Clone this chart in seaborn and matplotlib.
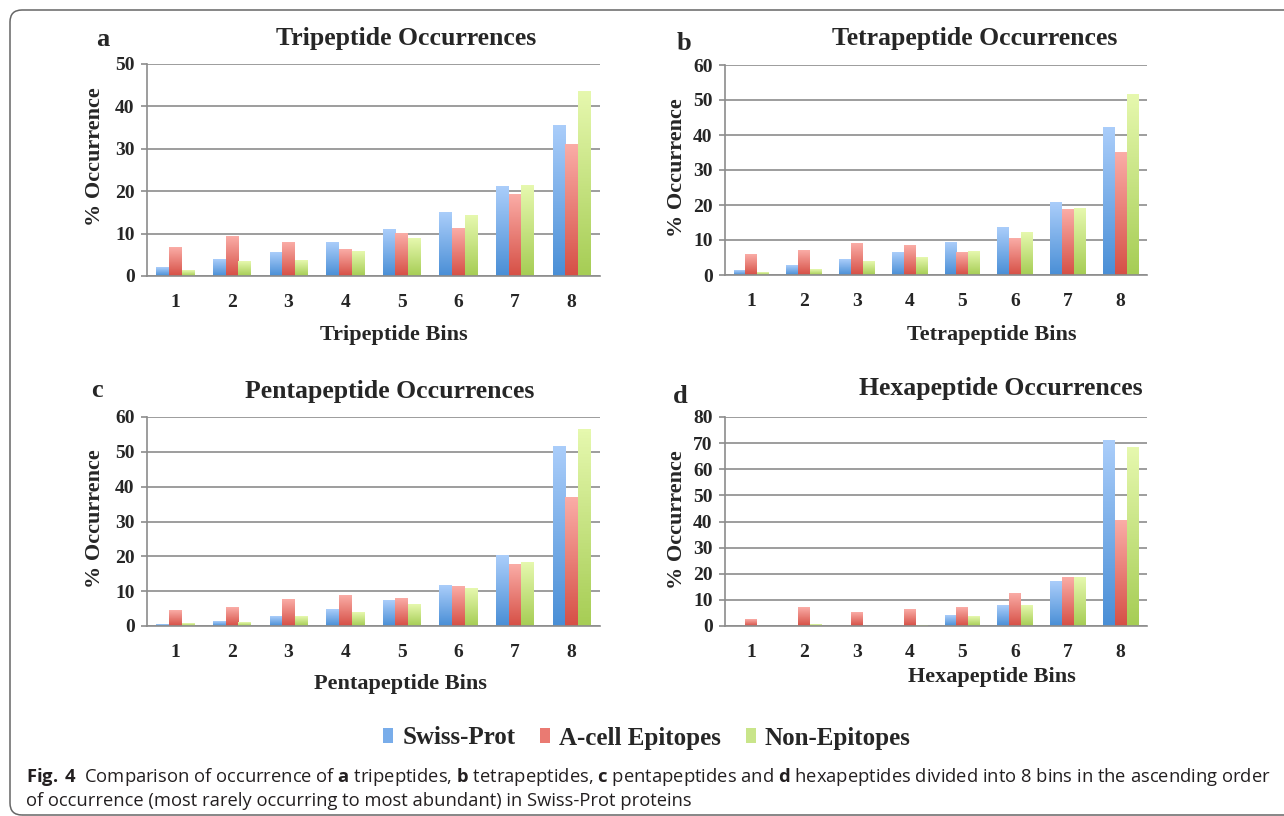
import matplotlib
matplotlib.use("Agg")
import matplotlib.pyplot as plt
import matplotlib.colors as mcolors
from matplotlib.patches import Patch, FancyBboxPatch
from matplotlib.transforms import IdentityTransform
import numpy as np
import pandas as pd
import seaborn as sns

# ---- data (% occurrence per bin) ----
BINS = ["1", "2", "3", "4", "5", "6", "7", "8"]
SERIES = ["Swiss-Prot", "A-cell Epitopes", "Non-Epitopes"]

TRI_SWISS = [1.9, 3.8, 5.5, 8.0, 11.0, 14.9, 21.1, 35.5]
TRI_ACELL = [6.7, 9.2, 8.0, 6.3, 10.1, 11.2, 19.2, 30.9]
TRI_NONEP = [1.2, 3.4, 3.6, 5.8, 8.9, 14.2, 21.3, 43.5]

TETRA_SWISS = [1.2, 2.7, 4.4, 6.5, 9.4, 13.7, 20.7, 42.2]
TETRA_ACELL = [5.8, 7.0, 9.1, 8.4, 6.5, 10.3, 18.6, 35.0]
TETRA_NONEP = [0.7, 1.5, 3.8, 4.9, 6.8, 12.1, 19.0, 51.7]

PENTA_SWISS = [0.3, 1.4, 2.7, 4.6, 7.4, 11.7, 20.2, 51.5]
PENTA_ACELL = [4.5, 5.4, 7.7, 8.7, 8.0, 11.4, 17.6, 37.0]
PENTA_NONEP = [0.6, 1.0, 2.6, 3.8, 6.2, 10.9, 18.2, 56.5]

HEXA_SWISS = [0.0, 0.0, 0.0, 0.0, 4.1, 7.8, 16.9, 71.0]
HEXA_ACELL = [2.3, 7.1, 5.3, 6.5, 6.9, 12.6, 18.7, 40.5]
HEXA_NONEP = [0.0, 0.6, 0.0, 0.2, 3.7, 7.8, 18.5, 68.2]

PANELS = [
    ("a", "Tripeptide", [TRI_SWISS, TRI_ACELL, TRI_NONEP], 50),
    ("b", "Tetrapeptide", [TETRA_SWISS, TETRA_ACELL, TETRA_NONEP], 60),
    ("c", "Pentapeptide", [PENTA_SWISS, PENTA_ACELL, PENTA_NONEP], 60),
    ("d", "Hexapeptide", [HEXA_SWISS, HEXA_ACELL, HEXA_NONEP], 80),
]

# Excel-style gradient: (mid, bottom, top)
COLS = {
    "Swiss-Prot": ("#79adea", "#4a8fd6", "#aacdfa"),
    "A-cell Epitopes": ("#ea7a72", "#d65046", "#faaca6"),
    "Non-Epitopes": ("#c9e58a", "#a6cd55", "#e6f8ae"),
}
PALETTE = {k: v[0] for k, v in COLS.items()}
GRAD = {v[0]: mcolors.LinearSegmentedColormap.from_list(k, [v[1], v[2]])
        for k, v in COLS.items()}

W, H = 1284, 816
sns.set_theme(style="white")
plt.rcParams["font.family"] = ["Liberation Serif", "DejaVu Serif"]
plt.rcParams["font.weight"] = "bold"
plt.rcParams["mathtext.fontset"] = "custom"
plt.rcParams["mathtext.rm"] = "Open Sans"
plt.rcParams["mathtext.bf"] = "Open Sans:bold"

GRID = "#8c8c8c"

# pixel boxes of each plot area: left, top, right, bottom
BOXES = [(147, 64, 600, 276), (725, 65, 1147, 275),
         (147, 417, 600, 626), (725, 417, 1147, 626)]
TITLES = [(406, 38), (975, 38), (390, 391), (1001, 388)]
LETTERS = [(103, 40), (684, 44), (97, 390), (680, 396)]
XLABELS = [(394, 335), (992, 335), (400, 684), (992, 677)]
YLABELS = [(95, 157), (677, 168), (95, 519), (677, 520)]


def fx(px):
    return px / W


def fy(py):
    return 1 - py / H


def paint_gradients(ax):
    xlim, ylim = ax.get_xlim(), ax.get_ylim()
    ramp = np.linspace(0, 1, 64).reshape(-1, 1)
    for bar in list(ax.patches):
        x, y = bar.get_x(), bar.get_y()
        w, h = bar.get_width(), bar.get_height()
        bar.set_visible(False)
        if h <= 0:
            continue
        cmap = GRAD[mcolors.to_hex(bar.get_facecolor())]
        ax.imshow(ramp, extent=[x, x + w, y, y + h], origin="lower",
                  aspect="auto", cmap=cmap, zorder=2)
    ax.set_xlim(xlim); ax.set_ylim(ylim)


fig = plt.figure(figsize=(W / 100, H / 100), dpi=100)

for i, (letter, name, vals, ymax) in enumerate(PANELS):
    l, t, r, b = BOXES[i]
    ax = fig.add_axes([fx(l), fy(b), fx(r) - fx(l), fy(t) - fy(b)])
    df = pd.DataFrame({
        "bin": BINS * 3,
        "series": np.repeat(SERIES, len(BINS)),
        "value": np.concatenate(vals),
    })
    sns.barplot(data=df, x="bin", y="value", hue="series", hue_order=SERIES,
                palette=PALETTE, saturation=1, width=0.67, gap=0,
                legend=False, ax=ax)
    ax.set_xlim(-0.5, 7.5)
    ax.set_ylim(0, ymax)
    ax.set_yticks(np.arange(0, ymax + 1, 10))
    ax.set_axisbelow(True)
    ax.yaxis.grid(True, color=GRID, lw=1.2)
    for s in ("top", "right"):
        ax.spines[s].set_visible(False)
    for s in ("left", "bottom"):
        ax.spines[s].set_color(GRID)
        ax.spines[s].set_linewidth(1.2)
    ax.tick_params(axis="y", direction="out", length=4, width=1.2,
                   color=GRID, labelsize=14, pad=5, left=True)
    ax.tick_params(axis="x", length=0, labelsize=14, pad=13)
    ax.set_xlabel(""); ax.set_ylabel("")
    paint_gradients(ax)

    fig.text(fx(TITLES[i][0]), fy(TITLES[i][1]), f"{name} Occurrences",
             ha="center", va="center", fontsize=18.5, weight="bold")
    fig.text(fx(LETTERS[i][0]), fy(LETTERS[i][1]), letter,
             ha="center", va="center", fontsize=19, weight="bold")
    fig.text(fx(XLABELS[i][0]), fy(XLABELS[i][1]), f"{name} Bins",
             ha="center", va="center", fontsize=16, weight="bold")
    fig.text(fx(YLABELS[i][0]), fy(YLABELS[i][1]), "% Occurrence",
             ha="center", va="center", rotation=90, fontsize=16,
             weight="bold")

handles = [Patch(facecolor=COLS[s][0], edgecolor="none") for s in SERIES]
fig.legend(handles, SERIES, loc="center", bbox_to_anchor=(fx(647), fy(738)),
           ncol=3, frameon=False, handlelength=0.4, handleheight=0.55,
           handletextpad=0.35, columnspacing=1.0,
           prop={"family": "Liberation Serif", "weight": "bold", "size": 18})

# caption
cap1 = fig.text(fx(26), fy(777),
                r"$\mathbf{Fig.\,4}$  Comparison of occurrence of $\mathbf{a}$ "
                r"tripeptides, $\mathbf{b}$ tetrapeptides, $\mathbf{c}$ "
                r"pentapeptides and $\mathbf{d}$ hexapeptides divided into 8 "
                r"bins in the ascending order",
                family="Open Sans", weight="normal", fontsize=13,
                va="center", color="#231f20")
cap2 = fig.text(fx(26), fy(801),
                "of occurrence (most rarely occurring to most abundant) "
                "in Swiss-Prot proteins",
                family="Open Sans", weight="normal", fontsize=13,
                va="center", color="#231f20")
fig.canvas.draw()
width = cap1.get_window_extent(fig.canvas.get_renderer()).width
size = 13 * (1265 - 26) / width
cap1.set_fontsize(size); cap2.set_fontsize(size)

# rounded frame around the figure
frame = FancyBboxPatch((10, 1), 1320, 805,
                       boxstyle="round,pad=0,rounding_size=12",
                       transform=IdentityTransform(), fill=False,
                       edgecolor="#666666", lw=1.1)
fig.patches.append(frame)

fig.savefig("out.png", dpi=100)
